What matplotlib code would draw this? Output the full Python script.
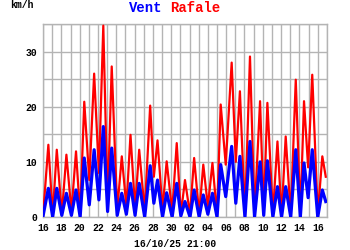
import matplotlib
matplotlib.use("Agg")
from matplotlib import pyplot as plt
from matplotlib.ticker import MultipleLocator, FixedLocator

# temps en jours depuis le 16/09 00:00, alternance creux / pic
jours = [0.0, 0.58, 1.05, 1.5, 2.05, 2.55, 3.1, 3.6, 4.05, 4.5, 5.05, 5.58, 6.1, 6.58,
         7.05, 7.5, 8.1, 8.6, 9.1, 9.55, 10.05, 10.5, 11.1, 11.7, 12.1, 12.5, 13.05, 13.5,
         14.1, 14.6, 15.05, 15.5, 16.05, 16.5, 17.05, 17.5, 18.0, 18.5, 19.0, 19.4, 19.95,
         20.6, 21.05, 21.5, 22.05, 22.6, 23.1, 23.7, 24.1, 24.5, 25.1, 25.6, 26.05, 26.5,
         27.05, 27.6, 28.1, 28.5, 28.95, 29.4, 30.0, 30.5, 30.875]
rafale = [0.3, 13.1, 0.3, 12.2, 0.5, 11.3, 1.0, 11.9, 0.3, 20.9, 6.7, 26.0, 8.0, 34.7,
          2.5, 27.3, 1.3, 11.0, 1.9, 14.9, 1.5, 12.2, 1.0, 20.2, 7.3, 13.9, 1.3, 10.1,
          1.0, 13.4, 0.5, 6.7, 0.5, 10.7, 0.5, 9.5, 1.9, 9.8, 0.3, 20.4, 9.5,
          28.0, 10.0, 22.8, 0.3, 29.1, 0.5, 21.0, 1.0, 20.7, 0.5, 13.7, 0.3, 14.6,
          0.3, 24.9, 0.3, 21.0, 9.0, 25.8, 0.5, 11.0, 7.3]
vent = [0.2, 5.2, 0.0, 5.2, 0.3, 4.3, 0.3, 4.9, 0.0, 10.7, 2.2, 12.2, 3.1, 16.4,
        1.0, 12.5, 0.3, 4.3, 0.5, 6.1, 0.3, 6.1, 0.0, 9.3, 2.5, 6.7, 0.0, 4.4,
        0.0, 6.1, 0.2, 2.8, 0.0, 4.9, 0.0, 4.0, 0.5, 4.3, 0.0, 9.5, 3.7,
        12.8, 2.5, 11.0, 0.0, 13.7, 0.0, 10.0, 0.3, 10.2, 0.0, 5.5, 0.0, 5.5,
        0.0, 12.2, 0.0, 9.8, 3.5, 12.2, 0.0, 4.9, 2.8]

etiquettes_x = ["16", "18", "20", "22", "24", "26", "28", "30",
                "02", "04", "06", "08", "10", "12", "14", "16"]
horodatage = "16/10/25 21:00"

police = "Liberation Mono"
gris = "#b4b4b4"

fig = plt.figure(figsize=(3.5, 2.5), dpi=100)
ax = fig.add_axes([0.123, 0.132, 0.811, 0.772])

ax.plot(jours, rafale, color="#ff0000", lw=1.6, zorder=3)
ax.plot(jours, vent, color="#0000ff", lw=2.3, zorder=4)

ax.set_xlim(0, 31)
ax.set_ylim(0, 35)
ax.xaxis.set_major_locator(FixedLocator(range(0, 31, 2)))
ax.xaxis.set_minor_locator(MultipleLocator(1))
ax.set_xticklabels(etiquettes_x)
ax.yaxis.set_major_locator(MultipleLocator(10))
ax.yaxis.set_minor_locator(MultipleLocator(5))

ax.grid(True, which="both", color=gris, lw=1.0, zorder=0)
ax.tick_params(which="both", length=0, pad=4)
for lab in ax.get_xticklabels() + ax.get_yticklabels():
    lab.set_fontfamily(police)
    lab.set_fontweight("bold")
    lab.set_fontsize(7)
for sp in ax.spines.values():
    sp.set_color(gris)
    sp.set_linewidth(1.0)

fig.text(0.465, 0.968, "Vent", color="#0000ff", family=police, weight="bold",
         fontsize=10, ha="right", va="center")
fig.text(0.485, 0.968, "Rafale", color="#ff0000", family=police, weight="bold",
         fontsize=10, ha="left", va="center")
fig.text(0.03, 0.978, "km/h", family=police, weight="bold", fontsize=7,
         ha="left", va="center")
fig.text(0.5, 0.025, horodatage, family=police, weight="bold", fontsize=7,
         ha="center", va="center")

fig.savefig("out.png", dpi=100)
